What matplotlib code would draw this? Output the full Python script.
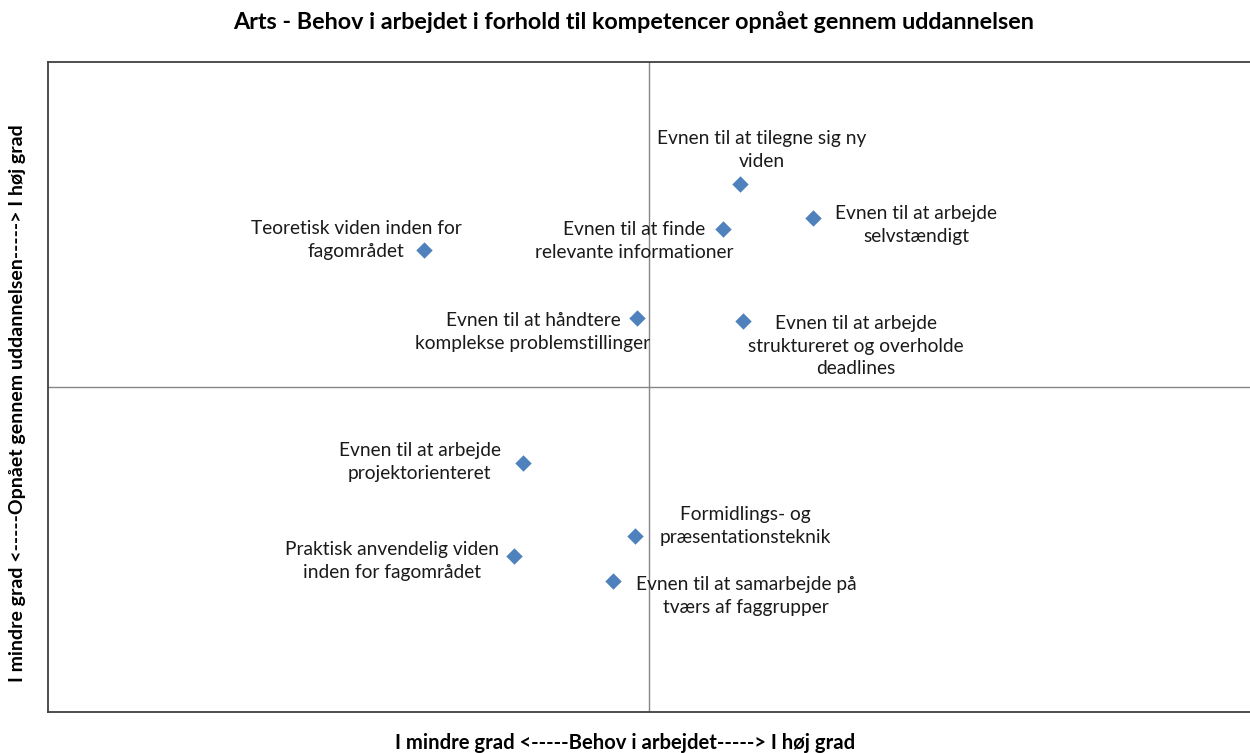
import matplotlib
matplotlib.use("Agg")
import matplotlib.pyplot as plt

labels = [
    "Evnen til at tilegne sig ny\nviden",
    "Evnen til at arbejde\nselvstændigt",
    "Evnen til at finde\nrelevante informationer",
    "Teoretisk viden inden for\nfagområdet",
    "Evnen til at håndtere\nkomplekse problemstillinger",
    "Evnen til at arbejde\nstruktureret og overholde\ndeadlines",
    "Evnen til at arbejde\nprojektorienteret",
    "Formidlings- og\npræsentationsteknik",
    "Praktisk anvendelig viden\ninden for fagområdet",
    "Evnen til at samarbejde på\ntværs af faggrupper",
]
behov = [3.151, 3.273, 3.123, 2.626, 2.980, 3.156, 2.790, 2.977, 2.775, 2.940]
opnaaet = [3.625, 3.520, 3.486, 3.422, 3.212, 3.203, 2.766, 2.542, 2.480, 2.403]

# label offsets in pixels (dx, dy) relative to the point
offsets = [(22, 34), (103, -7), (-89, -12), (-68, 10), (-104, -14),
           (113, -25), (-103, 1), (110, 10), (-122, -5), (133, -15)]

x_mid, y_mid = 3.0, 3.0
x_range = (2.0, 4.0)
y_range = (2.0, 4.0)

plt.rcParams['font.family'] = ['Lato', 'DejaVu Sans']

fig = plt.figure(figsize=(12.5, 7.53), dpi=100)
ax = fig.add_axes([48/1250, 1-712/753, 1-48/1250, 650/753])
ax.set_xlim(*x_range)
ax.set_ylim(*y_range)
ax.set_xticks([])
ax.set_yticks([])
for s in ['left', 'bottom', 'top']:
    ax.spines[s].set_color('#404040')
    ax.spines[s].set_linewidth(1.3)
ax.spines['right'].set_visible(False)

ax.axvline(x_mid, color='#868686', lw=1, zorder=1)
ax.axhline(y_mid, color='#868686', lw=1, zorder=1)

ax.scatter(behov, opnaaet, marker='D', s=70, color='#4F81BD', zorder=3, linewidths=0)

for x, y, lab, (dx, dy) in zip(behov, opnaaet, labels, offsets):
    ax.annotate(lab, (x, y), xytext=(dx, dy), textcoords='offset pixels',
                ha='center', va='center', fontsize=13.8, color='#1a1a1a',
                linespacing=1.42, zorder=4)

fig.text(634/1250, 1-22/753, "Arts - Behov i arbejdet i forhold til kompetencer opnået gennem uddannelsen",
         ha='center', va='center', fontsize=16.8, fontweight='bold')
fig.text(625/1250, 1-743/753, "I mindre grad <-----Behov i arbejdet-----> I høj grad",
         ha='center', va='center', fontsize=14.6, fontweight='bold')
fig.text(18/1250, 1-403/753, "I mindre grad <-----Opnået gennem uddannelsen-----> I høj grad",
         ha='center', va='center', rotation=90, fontsize=14.0, fontweight='bold')

fig.savefig("out.png", dpi=100)
